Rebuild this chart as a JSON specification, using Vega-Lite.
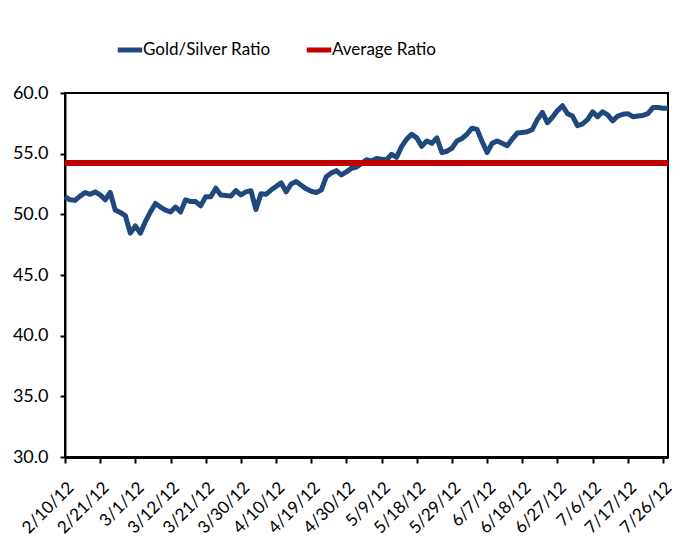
{
  "$schema": "https://vega.github.io/schema/vega-lite/v6.json",
  "autosize": "none",
  "width": 603,
  "height": 364,
  "padding": {"left": 65, "top": 93, "right": 21, "bottom": 101},
  "background": "white",
  "config": {
    "font": "Lato",
    "view": {"stroke": "black", "strokeWidth": 2},
    "axis": {"labelColor": "black", "domainColor": "black", "tickColor": "black", "grid": false, "title": null, "labelFont": "Lato"}
  },
  "data": {"values": [
    {"d":"2/10/12","r":51.45},{"d":"2/13/12","r":51.2},{"d":"2/14/12","r":51.15},{"d":"2/15/12","r":51.5},{"d":"2/16/12","r":51.8},
    {"d":"2/17/12","r":51.65},{"d":"2/20/12","r":51.85},{"d":"2/21/12","r":51.6},{"d":"2/22/12","r":51.2},{"d":"2/23/12","r":51.8},
    {"d":"2/24/12","r":50.35},{"d":"2/27/12","r":50.15},{"d":"2/28/12","r":49.9},{"d":"2/29/12","r":48.45},{"d":"3/1/12","r":49.05},
    {"d":"3/2/12","r":48.45},{"d":"3/5/12","r":49.4},{"d":"3/6/12","r":50.2},{"d":"3/7/12","r":50.9},{"d":"3/8/12","r":50.6},
    {"d":"3/9/12","r":50.35},{"d":"3/12/12","r":50.2},{"d":"3/13/12","r":50.6},{"d":"3/14/12","r":50.2},{"d":"3/15/12","r":51.2},
    {"d":"3/16/12","r":51.05},{"d":"3/19/12","r":51.05},{"d":"3/20/12","r":50.7},{"d":"3/21/12","r":51.45},{"d":"3/22/12","r":51.45},
    {"d":"3/23/12","r":52.15},{"d":"3/26/12","r":51.6},{"d":"3/27/12","r":51.55},{"d":"3/28/12","r":51.5},{"d":"3/29/12","r":51.95},
    {"d":"3/30/12","r":51.6},{"d":"4/2/12","r":51.85},{"d":"4/3/12","r":51.95},{"d":"4/4/12","r":50.4},{"d":"4/5/12","r":51.7},
    {"d":"4/6/12","r":51.65},{"d":"4/9/12","r":52.0},{"d":"4/10/12","r":52.3},{"d":"4/11/12","r":52.6},{"d":"4/12/12","r":51.85},
    {"d":"4/13/12","r":52.5},{"d":"4/16/12","r":52.7},{"d":"4/17/12","r":52.4},{"d":"4/18/12","r":52.1},{"d":"4/19/12","r":51.9},
    {"d":"4/20/12","r":51.8},{"d":"4/23/12","r":52.0},{"d":"4/24/12","r":53.1},{"d":"4/25/12","r":53.4},{"d":"4/26/12","r":53.6},
    {"d":"4/27/12","r":53.25},{"d":"4/30/12","r":53.5},{"d":"5/1/12","r":53.8},{"d":"5/2/12","r":53.9},{"d":"5/3/12","r":54.2},
    {"d":"5/4/12","r":54.5},{"d":"5/7/12","r":54.4},{"d":"5/8/12","r":54.6},{"d":"5/9/12","r":54.55},{"d":"5/10/12","r":54.5},
    {"d":"5/11/12","r":54.95},{"d":"5/14/12","r":54.7},{"d":"5/15/12","r":55.6},{"d":"5/16/12","r":56.2},{"d":"5/17/12","r":56.6},
    {"d":"5/18/12","r":56.3},{"d":"5/21/12","r":55.6},{"d":"5/22/12","r":56.05},{"d":"5/23/12","r":55.85},{"d":"5/24/12","r":56.3},
    {"d":"5/25/12","r":55.1},{"d":"5/28/12","r":55.2},{"d":"5/29/12","r":55.45},{"d":"5/30/12","r":56.05},{"d":"5/31/12","r":56.25},
    {"d":"6/1/12","r":56.6},{"d":"6/4/12","r":57.1},{"d":"6/5/12","r":57.0},{"d":"6/6/12","r":56.0},{"d":"6/7/12","r":55.1},
    {"d":"6/8/12","r":55.85},{"d":"6/11/12","r":56.05},{"d":"6/12/12","r":55.85},{"d":"6/13/12","r":55.65},{"d":"6/14/12","r":56.2},
    {"d":"6/15/12","r":56.7},{"d":"6/18/12","r":56.75},{"d":"6/19/12","r":56.8},{"d":"6/20/12","r":57.0},{"d":"6/21/12","r":57.8},
    {"d":"6/22/12","r":58.4},{"d":"6/25/12","r":57.55},{"d":"6/26/12","r":58.0},{"d":"6/27/12","r":58.55},{"d":"6/28/12","r":58.95},
    {"d":"6/29/12","r":58.3},{"d":"7/2/12","r":58.1},{"d":"7/3/12","r":57.3},{"d":"7/4/12","r":57.45},{"d":"7/5/12","r":57.8},
    {"d":"7/6/12","r":58.45},{"d":"7/9/12","r":58.05},{"d":"7/10/12","r":58.45},{"d":"7/11/12","r":58.2},{"d":"7/12/12","r":57.7},
    {"d":"7/13/12","r":58.1},{"d":"7/16/12","r":58.25},{"d":"7/17/12","r":58.3},{"d":"7/18/12","r":58.05},{"d":"7/19/12","r":58.1},
    {"d":"7/20/12","r":58.15},{"d":"7/23/12","r":58.3},{"d":"7/24/12","r":58.8},{"d":"7/25/12","r":58.8},{"d":"7/26/12","r":58.75},
    {"d":"7/27/12","r":58.75}
  ]},
  "encoding": {
    "x": {
      "field": "d", "type": "ordinal", "sort": null,
      "scale": {"type": "point", "padding": 0},
      "axis": {
        "values": ["2/10/12","2/21/12","3/1/12","3/12/12","3/21/12","3/30/12","4/10/12","4/19/12","4/30/12","5/9/12","5/18/12","5/29/12","6/7/12","6/18/12","6/27/12","7/6/12","7/17/12","7/26/12"],
        "labelAngle": -45, "labelFontSize": 17, "tickSize": 6, "tickWidth": 2, "domainWidth": 3, "labelPadding": 16, "labelOffset": 0
      }
    }
  },
  "layer": [
    {
      "mark": {"type": "line", "strokeWidth": 5, "strokeJoin": "round"},
      "encoding": {
        "y": {
          "field": "r", "type": "quantitative",
          "scale": {"domain": [30, 60], "nice": false, "zero": false},
          "axis": {"values": [30,35,40,45,50,55,60], "format": ".1f", "labelFontSize": 18, "tickSize": 5, "tickWidth": 2, "domainWidth": 2, "labelPadding": 12}
        },
        "color": {
          "datum": "Gold/Silver Ratio",
          "scale": {"domain": ["Gold/Silver Ratio", "Average Ratio"], "range": ["#1F497D", "#C00000"]},
          "legend": {
            "orient": "none", "legendX": 50, "legendY": -58, "direction": "horizontal", "title": null,
            "symbolType": "stroke", "symbolStrokeWidth": 5, "symbolSize": 600,
            "labelFontSize": 17, "labelColor": "black", "labelOffset": -2, "columnPadding": 25
          }
        }
      }
    },
    {
      "mark": {"type": "rule", "strokeWidth": 5},
      "encoding": {
        "y": {"datum": 54.2, "type": "quantitative"},
        "x": null,
        "color": {"datum": "Average Ratio"}
      }
    }
  ]
}
